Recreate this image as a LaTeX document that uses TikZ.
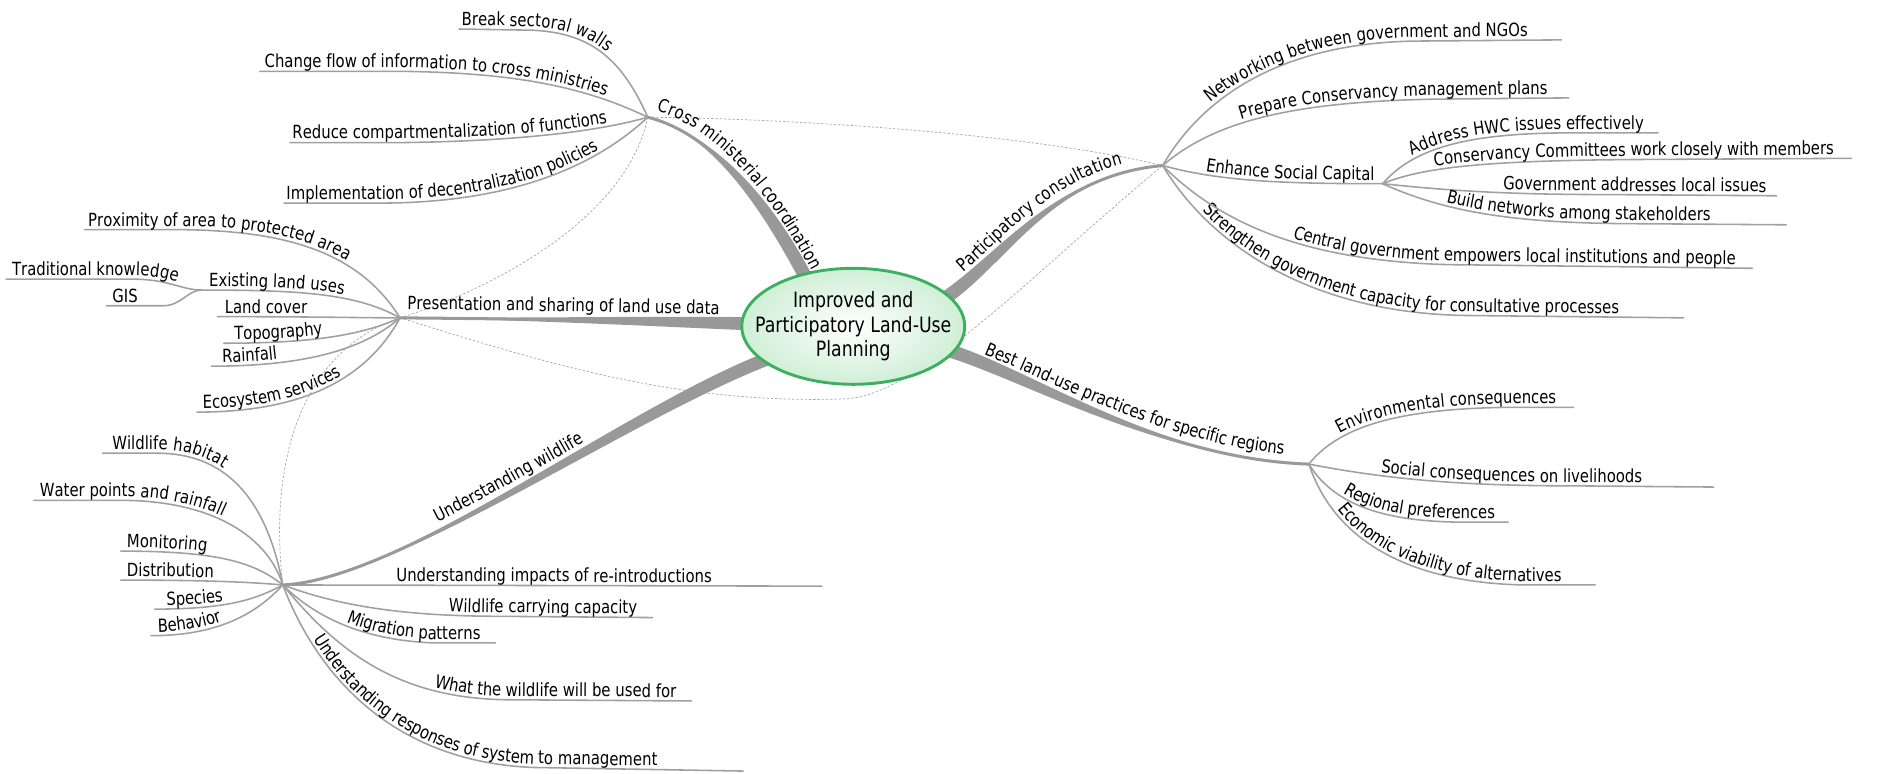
\documentclass[tikz,border=0pt]{standalone}
\usepackage{fontspec}
\setmainfont{DejaVu Sans}[FakeStretch=0.82]
\usetikzlibrary{shapes.geometric,decorations.text}

\definecolor{twiggray}{HTML}{A0A0A0}
\definecolor{limbgray}{HTML}{999999}
\definecolor{dashgray}{HTML}{A8A8A8}
\definecolor{coregreen}{HTML}{3DB060}
\definecolor{corefill}{HTML}{CFEFD6}

\newcommand\lbl{\fontsize{15}{18}\selectfont}

\tikzset{
  twig/.style={draw=twiggray, line width=1.3pt, line cap=round},
  twigtext/.style 2 args={postaction={decorate, decoration={text along path, raise=3pt, text align={left indent=#1}, text={|\lbl|#2}}}},
  limb/.style={fill=limbgray},
  limbline/.style={draw=limbgray, line width=2.5pt},
  limbtext/.style 2 args={postaction={decorate, decoration={text along path, raise=7pt, text align={left indent=#1}, text={|\lbl|#2}}}},
  dashlink/.style={draw=dashgray, line width=0.6pt, dash pattern=on 2pt off 1.5pt},
  coreshape/.style={ellipse, draw=coregreen, line width=2.4pt, inner color=white, outer color=corefill, inner xsep=-16pt, inner ysep=4pt, minimum width=184pt, minimum height=96pt, align=center, font=\fontsize{17.5}{20.5}\selectfont}
}

\begin{document}
\begin{tikzpicture}[x=1pt, y=-1pt]
    \useasboundingbox (0,0) rectangle (1568,640);

    % Hubs
    \coordinate (cross) at (536,97);
    \coordinate (share) at (331,263);
    \coordinate (lands) at (167,240);
    \coordinate (wild) at (234,484);
    \coordinate (consult) at (962,137);
    \coordinate (social) at (1144,152);
    \coordinate (best) at (1083,384);

    % Relations
    \draw[dashlink] (cross) .. controls (650,98) and (850,110) .. (consult);
    \draw[dashlink] (cross) .. controls (520,175) and (420,235) .. (share);
    \draw[dashlink] (share) .. controls (450,300) and (560,335) .. (700,330) .. controls (760,327) and (850,230) .. (consult);
    \draw[dashlink] (share) .. controls (250,290) and (222,380) .. (wild);

    % Cross ministerial coordination
    \draw[twig, twigtext={2pt}{Break sectoral walls}] (380,24) -- (440,25) .. controls (490,27) and (515,50) .. (cross);
    \draw[twig, twigtext={4pt}{Change flow of information to cross ministries}] (215,59) -- (330,59) .. controls (420,60) and (480,70) .. (cross);
    \draw[twig, twigtext={2pt}{Reduce compartmentalization of functions}] (240,118) -- (330,118) .. controls (420,117) and (490,110) .. (cross);
    \draw[twig, twigtext={2pt}{Implementation of decentralization policies}] (235,168) -- (320,168) .. controls (420,167) and (490,140) .. (cross);

    % Presentation and sharing of land use data
    \draw[twig, twigtext={3pt}{Proximity of area to protected area}] (70,190) -- (150,190) .. controls (230,191) and (295,205) .. (share);
    \draw[twig, twigtext={5pt}{Traditional knowledge}] (5,231) -- (110,231) .. controls (140,231) and (150,240) .. (lands);
    \draw[twig, twigtext={5pt}{GIS}] (88,253) -- (135,253) .. controls (150,253) and (155,240) .. (lands);
    \draw[twig, twigtext={6pt}{Existing land uses}] (lands) .. controls (250,240) and (295,243) .. (share);
    \draw[twig, twigtext={6pt}{Land cover}] (180,262) .. controls (260,262) and (300,263) .. (share);
    \draw[twig, twigtext={9pt}{Topography}] (185,284) .. controls (260,284) and (300,277) .. (share);
    \draw[twig, twigtext={9pt}{Rainfall}] (175,303) .. controls (250,303) and (300,290) .. (share);
    \draw[twig, twigtext={5pt}{Ecosystem services}] (163,341) .. controls (240,341) and (300,320) .. (share);

    % Understanding wildlife
    \draw[twig, twigtext={8pt}{Wildlife habitat}] (85,375) -- (130,375) .. controls (185,375) and (220,410) .. (wild);
    \draw[twig, twigtext={5pt}{Water points and rainfall}] (28,414) -- (100,414) .. controls (170,414) and (220,440) .. (wild);
    \draw[twig, twigtext={5pt}{Monitoring}] (100,456) .. controls (180,456) and (210,465) .. (wild);
    \draw[twig, twigtext={5pt}{Distribution}] (100,480) .. controls (180,480) and (210,482) .. (wild);
    \draw[twig, twigtext={10pt}{Species}] (128,504) .. controls (185,504) and (210,497) .. (wild);
    \draw[twig, twigtext={6pt}{Behavior}] (125,526) .. controls (180,526) and (212,508) .. (wild);
    \draw[twig, twigtext={94pt}{Understanding impacts of re-introductions}] (wild) -- (680,485);
    \draw[twig, twigtext={140pt}{Wildlife carrying capacity}] (wild) .. controls (290,505) and (350,510) .. (420,510) -- (540,511);
    \draw[twig, twigtext={62pt}{Migration patterns}] (wild) .. controls (260,510) and (300,530) .. (360,532) -- (410,532);
    \draw[twig, twigtext={155pt}{What the wildlife will be used for}] (wild) .. controls (280,540) and (330,578) .. (420,579) -- (572,580);
    \draw[twig, twigtext={52pt}{Understanding responses of system to management}] (wild) .. controls (265,565) and (330,630) .. (440,635) -- (615,638);

    % Participatory consultation
    \draw[twig, twigtext={65pt}{Networking between government and NGOs}] (consult) .. controls (995,80) and (1060,36) .. (1170,34) -- (1292,33);
    \draw[twig, twigtext={75pt}{Prepare Conservancy management plans}] (consult) .. controls (1005,100) and (1070,84) .. (1190,82) -- (1298,81);
    \draw[twig, twigtext={36pt}{Enhance Social Capital}] (consult) .. controls (1010,150) and (1060,152) .. (social);
    \draw[twig, twigtext={50pt}{Strengthen government capacity for consultative processes}] (consult) .. controls (1000,200) and (1080,258) .. (1210,261) -- (1393,263);
    \draw[twig, twigtext={125pt}{Central government empowers local institutions and people}] (consult) .. controls (1010,185) and (1080,216) .. (1200,219) -- (1450,222);

    % Enhance Social Capital
    \draw[twig, twigtext={33pt}{Address HWC issues effectively}] (social) .. controls (1170,122) and (1215,111) .. (1290,110) -- (1372,110);
    \draw[twig, twigtext={45pt}{Conservancy Committees work closely with members}] (social) .. controls (1180,137) and (1240,133) .. (1350,132) -- (1532,131);
    \draw[twig, twigtext={100pt}{Government addresses local issues}] (social) .. controls (1200,158) and (1250,161) .. (1330,161) -- (1470,162);
    \draw[twig, twigtext={55pt}{Build networks among stakeholders}] (social) .. controls (1195,175) and (1250,184) .. (1340,185) -- (1478,186);

    % Best land-use practices
    \draw[twig, twigtext={35pt}{Environmental consequences}] (best) .. controls (1110,350) and (1165,338) .. (1250,337) -- (1302,337);
    \draw[twig, twigtext={60pt}{Social consequences on livelihoods}] (best) .. controls (1140,395) and (1200,402) .. (1300,402) -- (1418,403);
    \draw[twig, twigtext={38pt}{Regional preferences}] (best) .. controls (1105,420) and (1150,431) .. (1205,432) -- (1248,432);
    \draw[twig, twigtext={45pt}{Economic viability of alternatives}] (best) .. controls (1105,450) and (1170,482) .. (1260,484) -- (1320,484);

    % Main branches
    \fill[limb] (cross) .. controls (580,108) and (629.9,147.4) .. (672.9,229.4) -- (663.1,234.6) .. controls (620.1,152.6) and (580,108) .. (cross) -- cycle;
    \draw[limbline, limbtext={5pt}{Cross ministerial coordination}] (cross) .. controls (580,108) and (625,150) .. (668,232);
    \fill[limb] (783,252.6) .. controls (833,219.6) and (870,145) .. (consult) .. controls (870,145) and (827,210.4) .. (777,243.4) -- cycle;
    \draw[limbline, limbtext={28pt}{Participatory consultation}] (780,248) .. controls (830,215) and (870,145) .. (consult);
    \fill[limb] (share) .. controls (450,263) and (550,261.5) .. (625,262.5) -- (625,273.5) .. controls (550,270.5) and (450,265) .. (share) -- cycle;
    \draw[limbline, limbtext={6pt}{Presentation and sharing of land use data}] (share) .. controls (450,264) and (550,266) .. (625,268);
    \fill[limb] (wild) .. controls (330,480) and (521.9,345.1) .. (641.9,300.1) -- (638.1,289.9) .. controls (518.1,334.9) and (330,480) .. (wild) -- cycle;
    \draw[limbline, limbtext={140pt}{Understanding wildlife}] (wild) .. controls (330,480) and (520,340) .. (640,295);
    \fill[limb] (786.7,284.8) .. controls (851.7,304.8) and (960,380) .. (best) .. controls (960,380) and (848.3,315.2) .. (783.3,295.2) -- cycle;
    \draw[limbline, limbtext={28pt}{Best land-use practices for specific regions}] (785,290) .. controls (850,310) and (960,380) .. (best);

    % Centre
    \node[coreshape] (core) at (706,270) {Improved and\\Participatory Land-Use\\Planning};
\end{tikzpicture}
\end{document}
